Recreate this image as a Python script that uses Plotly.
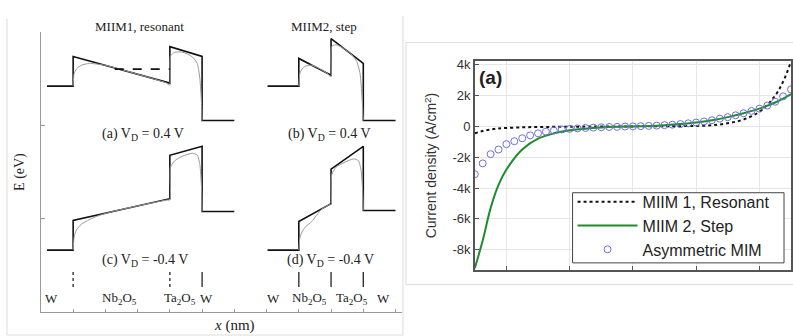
import plotly.graph_objects as go

W, H = 793, 336

# ---------------- Left panel: band diagrams (x in tick units, E in eV) ----------------
a_black_x = [0.19, 1, 1, 4, 4, 5, 5, 6]
a_black_E = [2.418, 2.418, 2.735, 2.45, 2.84, 2.735, 2.05, 2.05]
a_gray_x = [1.0, 1.03, 1.1, 1.25, 1.5, 2.0, 3.0, 3.9, 3.97, 4.0, 4.02, 4.15, 4.4, 4.7, 4.85, 4.93, 4.98, 5.0]
a_gray_E = [2.418, 2.55, 2.6, 2.64, 2.66, 2.64, 2.545, 2.45, 2.43, 2.43, 2.74, 2.78, 2.78, 2.73, 2.66, 2.5, 2.25, 2.05]
a_dash_x = [2.29, 4.0]
a_dash_E = [2.6, 2.6]

b_black_x = [7.03, 8, 8, 9, 9, 10, 10, 11]
b_black_E = [2.418, 2.418, 2.714, 2.534, 2.925, 2.66, 2.05, 2.05]
b_gray_x = [8.0, 8.03, 8.1, 8.2, 8.4, 8.9, 8.97, 9.0, 9.02, 9.15, 9.4, 9.65, 9.8, 9.9, 9.96, 10.0]
b_gray_E = [2.418, 2.55, 2.6, 2.63, 2.642, 2.55, 2.52, 2.52, 2.84, 2.86, 2.82, 2.75, 2.68, 2.55, 2.3, 2.05]

c_black_x = [0.19, 1, 1, 4, 4, 5, 5, 6]
c_black_E = [0.665, 0.665, 0.982, 1.214, 1.679, 1.774, 1.077, 1.077]
c_gray_x = [1.0, 1.03, 1.1, 1.25, 1.5, 1.8, 2.2, 3.9, 4.0, 4.02, 4.15, 4.4, 4.7, 4.85, 4.93, 4.98, 5.0]
c_gray_E = [0.665, 0.8, 0.88, 0.94, 0.99, 1.035, 1.075, 1.2, 1.2, 1.55, 1.62, 1.67, 1.7, 1.68, 1.58, 1.35, 1.077]

d_black_x = [7.03, 8, 8, 9, 9, 10, 10, 11]
d_black_E = [0.665, 0.665, 0.971, 1.162, 1.531, 1.774, 1.088, 1.088]
d_gray_x = [8.0, 8.03, 8.1, 8.2, 8.4, 8.7, 8.95, 9.0, 9.02, 9.15, 9.4, 9.7, 9.85, 9.93, 9.98, 10.0]
d_gray_E = [0.665, 0.79, 0.86, 0.91, 0.97, 1.1, 1.15, 1.15, 1.47, 1.55, 1.6, 1.64, 1.62, 1.52, 1.3, 1.088]

marker_x = [1, 4, 5, 8, 9, 10]
marker_dash = ["dot", "dot", "solid", "solid", "solid", "solid"]
layer_labels = ["W", "Nb<sub>2</sub>O<sub>5</sub>", "Ta<sub>2</sub>O<sub>5</sub>", "W",
                "W", "Nb<sub>2</sub>O<sub>5</sub>", "Ta<sub>2</sub>O<sub>5</sub>", "W"]
layer_label_x = [0.34, 2.45, 4.3, 5.15, 7.2, 8.33, 9.66, 10.62]

# ---------------- Right panel: J-V ----------------
v_line = [-0.5, -0.475, -0.45, -0.425, -0.4, -0.35, -0.3, -0.25, -0.2, -0.15, -0.1, -0.05,
          0.0, 0.05, 0.1, 0.15, 0.2, 0.25, 0.3, 0.35, 0.4, 0.45, 0.475, 0.5]
j_miim1 = [-450, -300, -200, -130, -100, -60, -40, -30, -20, -15, -10, -5,
           0, 5, 10, 15, 30, 70, 200, 450, 950, 2000, 2900, 4200]
j_miim2 = [-9200, -7400, -5300, -3800, -2800, -1500, -800, -450, -250, -150, -80, -30,
           0, 30, 80, 150, 250, 400, 600, 850, 1150, 1550, 1800, 2100]
v_mim = [-0.5 + 0.025 * i for i in range(41)]
j_mim = [-3100, -2400, -1800, -1500, -1150, -960, -770, -580, -450, -340, -270, -200,
         -160, -130, -100, -80, -60, -40, -30, -10, 0, 15, 30, 50, 80, 110, 150, 200,
         250, 320, 400, 500, 600, 720, 850, 1000, 1150, 1350, 1600, 1950, 2400]
y_tickvals = [4000, 2000, 0, -2000, -4000, -6000, -8000]
y_ticktext = ["4k", "2k", "0", "-2k", "-4k", "-6k", "-8k"]
x_tickvals = [-0.4, -0.2, 0.0, 0.2, 0.4]


def px(x):
    return x / W


def py(y):
    return 1 - y / H


fig = go.Figure()

# band diagrams
for bx, bE in [(a_black_x, a_black_E), (b_black_x, b_black_E), (c_black_x, c_black_E), (d_black_x, d_black_E)]:
    fig.add_trace(go.Scatter(x=bx, y=bE, mode="lines", line=dict(color="#111", width=1.6),
                             xaxis="x", yaxis="y", showlegend=False, hoverinfo="skip"))
for gx, gE in [(a_gray_x, a_gray_E), (b_gray_x, b_gray_E), (c_gray_x, c_gray_E), (d_gray_x, d_gray_E)]:
    fig.add_trace(go.Scatter(x=gx, y=gE, mode="lines", line=dict(color="#999", width=1.0, shape="spline", smoothing=0.6),
                             xaxis="x", yaxis="y", showlegend=False, hoverinfo="skip"))
fig.add_trace(go.Scatter(x=a_dash_x, y=a_dash_E, mode="lines", line=dict(color="#111", width=1.6, dash="dash"),
                         xaxis="x", yaxis="y", showlegend=False, hoverinfo="skip"))
for mx, md in zip(marker_x, marker_dash):
    fig.add_trace(go.Scatter(x=[mx, mx], y=[0.27, 0.43], mode="lines", line=dict(color="#333", width=1.4, dash=md),
                             xaxis="x", yaxis="y", showlegend=False, hoverinfo="skip"))

# J-V curves
fig.add_trace(go.Scatter(x=v_line, y=j_miim1, mode="lines", name="MIIM 1, Resonant",
                         line=dict(color="#111", width=2, dash="dot", shape="spline"),
                         xaxis="x2", yaxis="y2"))
fig.add_trace(go.Scatter(x=v_line, y=j_miim2, mode="lines", name="MIIM 2, Step",
                         line=dict(color="#1e8c2a", width=2, shape="spline"),
                         xaxis="x2", yaxis="y2"))
fig.add_trace(go.Scatter(x=v_mim, y=j_mim, mode="markers", name="Asymmetric MIM",
                         marker=dict(symbol="circle-open", color="#6f6fd8", size=7, line=dict(width=1)),
                         xaxis="x2", yaxis="y2"))

serif = "Liberation Serif"
sans = "Liberation Sans"

annotations = []


def ann(text, x, y, size, family=serif, **kw):
    annotations.append(dict(text=text, x=px(x), y=py(y), xref="paper", yref="paper", showarrow=False,
                            font=dict(family=family, size=size, color="#222"), xanchor="center",
                            yanchor="middle", **kw))


ann("MIIM1, resonant", 140, 23, 13)
ann("MIIM2, step", 325, 23, 13)
ann("(a) V<sub>D</sub> = 0.4 V", 143, 132, 14)
ann("(b) V<sub>D</sub> = 0.4 V", 330, 132, 14)
ann("(c) V<sub>D</sub> = -0.4 V", 145, 260, 14)
ann("(d) V<sub>D</sub> = -0.4 V", 331, 260, 14)
ann("<i>x</i> (nm)", 235, 325, 15)
ann("E (eV)", 20, 170, 14, textangle=-90)
for lt, lx in zip(layer_labels, layer_label_x):
    annotations.append(dict(text=lt, x=lx, y=py(298), xref="x", yref="paper", showarrow=False,
                            font=dict(family=serif, size=13, color="#222"), xanchor="center", yanchor="middle"))
ann("<b>(a)</b>", 492, 74, 19, family=sans)

shapes = [
    dict(type="line", xref="paper", yref="paper", x0=px(7), x1=px(7), y0=py(15), y1=py(335), line=dict(color="#dcdcdc", width=1)),
    dict(type="line", xref="paper", yref="paper", x0=px(404), x1=px(404), y0=py(12), y1=py(335), line=dict(color="#dcdcdc", width=1)),
    dict(type="line", xref="paper", yref="paper", x0=px(7), x1=px(404), y0=py(335), y1=py(335), line=dict(color="#dcdcdc", width=1)),
    dict(type="rect", xref="paper", yref="paper", x0=px(407), x1=px(800), y0=py(284), y1=py(39), line=dict(color="#dcdcdc", width=1)),
    # legend box
    dict(type="rect", xref="paper", yref="paper", x0=px(574), x1=px(786), y0=py(262), y1=py(191),
         line=dict(color="#444", width=1), fillcolor="white", layer="above"),
]

fig.update_layout(
    width=W, height=H, margin=dict(l=0, r=0, t=0, b=0),
    paper_bgcolor="white", plot_bgcolor="white",
    xaxis=dict(domain=[px(41), px(403)], range=[0, 11.2], showgrid=False, zeroline=False,
               showline=True, linecolor="#999", linewidth=1, ticks="inside", ticklen=3, tickcolor="#999",
               tickvals=list(range(1, 12)), showticklabels=False),
    yaxis=dict(domain=[py(312), py(28)], range=[0, 3], showgrid=False, zeroline=False,
               showline=True, linecolor="#999", linewidth=1, ticks="inside", ticklen=4, tickcolor="#999",
               tickvals=[1, 2, 3], showticklabels=False),
    xaxis2=dict(domain=[px(476), 1.0], range=[-0.5, 0.5], anchor="y2", showgrid=True, gridcolor="#e6e6e6",
                zeroline=False, showline=True, mirror=True, linecolor="#555", linewidth=1.5,
                ticks="inside", ticklen=4, tickcolor="#555", tickvals=x_tickvals, showticklabels=False),
    yaxis2=dict(domain=[py(269), py(58)], range=[-9300, 4220], anchor="x2", showgrid=True, gridcolor="#e6e6e6",
                zeroline=False, showline=True, mirror=True, linecolor="#555", linewidth=1.5,
                ticks="inside", ticklen=4, tickcolor="#555", tickvals=y_tickvals, ticktext=y_ticktext,
                tickfont=dict(family=sans, size=13, color="#333"),
                title=dict(text="Current density (A/cm<sup>2</sup>)", font=dict(family=sans, size=14, color="#333"),
                           standoff=12)),
    legend=dict(x=px(574), y=py(183), xanchor="left", yanchor="top", bgcolor="rgba(0,0,0,0)",
                borderwidth=0, font=dict(family=sans, size=16, color="#222"),
                itemwidth=60, tracegroupgap=0),
    annotations=annotations,
    shapes=shapes,
)

fig.write_html("out.html", config={"displayModeBar": False},
               post_script="document.body.style.margin='0';document.body.style.overflow='hidden';")
